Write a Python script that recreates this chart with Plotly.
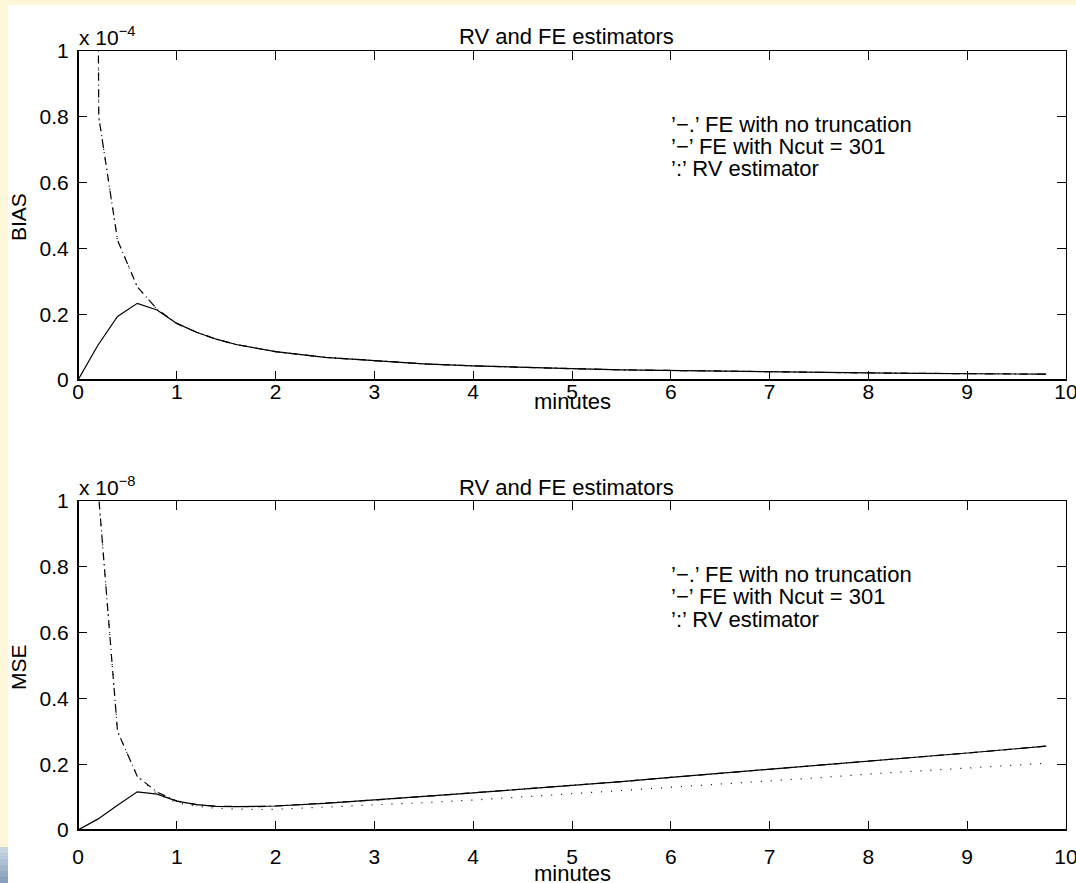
import plotly.graph_objects as go

W, H = 1076, 883

# ---------------- data ----------------
x_grid = [0, 0.2, 0.4, 0.6, 0.8, 1.0, 1.2, 1.4, 1.6, 1.8, 2.0, 2.5, 3.0, 3.5, 4.0,
          4.5, 5.0, 5.5, 6.0, 6.5, 7.0, 7.5, 8.0, 8.5, 9.0, 9.5, 9.8]

# BIAS (x 1e-4)
bias_fe_ncut = [0, 0.105, 0.193, 0.233, 0.213, 0.172, 0.145, 0.124, 0.108, 0.096, 0.086,
                0.069, 0.058, 0.049, 0.043, 0.038, 0.0345, 0.031, 0.0287, 0.0265, 0.0246,
                0.023, 0.0215, 0.0203, 0.0191, 0.0181, 0.0176]
bias_x_notrunc = [0.2, 0.21, 0.4, 0.6, 0.8, 1.0, 1.2, 1.4, 1.6, 1.8, 2.0, 2.5, 3.0, 3.5, 4.0,
                  4.5, 5.0, 5.5, 6.0, 6.5, 7.0, 7.5, 8.0, 8.5, 9.0, 9.5, 9.8]
bias_fe_notrunc = [1.4, 0.8, 0.425, 0.283, 0.215, 0.172, 0.145, 0.124, 0.108, 0.096, 0.086,
                   0.069, 0.058, 0.049, 0.043, 0.038, 0.0345, 0.031, 0.0287, 0.0265, 0.0246,
                   0.023, 0.0215, 0.0203, 0.0191, 0.0181, 0.0176]
bias_rv = [1.4, 0.8, 0.425, 0.283, 0.215, 0.172, 0.145, 0.124, 0.108, 0.096, 0.086,
           0.069, 0.058, 0.049, 0.043, 0.038, 0.0345, 0.031, 0.0287, 0.0265, 0.0246,
           0.023, 0.0215, 0.0203, 0.0191, 0.0181, 0.0176]

# MSE (x 1e-8)
mse_fe_ncut = [0, 0.033, 0.075, 0.116, 0.109, 0.088, 0.077, 0.072, 0.071, 0.071, 0.073,
               0.081, 0.091, 0.102, 0.113, 0.124, 0.135, 0.147, 0.160, 0.172, 0.185,
               0.197, 0.210, 0.222, 0.234, 0.247, 0.255]
mse_x_other = [0.2, 0.4, 0.6, 0.8, 1.0, 1.2, 1.4, 1.6, 1.8, 2.0, 2.5, 3.0, 3.5, 4.0,
               4.5, 5.0, 5.5, 6.0, 6.5, 7.0, 7.5, 8.0, 8.5, 9.0, 9.5, 9.8]
mse_fe_notrunc = [1.05, 0.30, 0.163, 0.115, 0.088, 0.077, 0.072, 0.071, 0.071, 0.073,
                  0.081, 0.091, 0.102, 0.113, 0.124, 0.135, 0.147, 0.160, 0.172, 0.185,
                  0.197, 0.210, 0.222, 0.234, 0.247, 0.255]
mse_rv = [1.05, 0.30, 0.163, 0.110, 0.083, 0.072, 0.066, 0.063, 0.062, 0.063,
          0.069, 0.076, 0.083, 0.091, 0.100, 0.110, 0.120, 0.130, 0.139, 0.149,
          0.159, 0.170, 0.179, 0.188, 0.197, 0.203]

x_ticks = [0, 1, 2, 3, 4, 5, 6, 7, 8, 9, 10]
y_ticks = [0, 0.2, 0.4, 0.6, 0.8, 1]
y_ticklabels = ["0", "0.2", "0.4", "0.6", "0.8", "1"]
legend_lines = ["’−.’ FE with no truncation", "’−’ FE with Ncut = 301", "’:’ RV estimator"]

# ---------------- layout helpers ----------------
def px(x):
    return x / W

def py(y):
    return 1 - y / H

FONT = "Liberation Sans, Arial, sans-serif"
FS = 21
FS_TXT = 22

fig = go.Figure()

DASHDOT = "8px,4px,1px,4px"
DOT = "1px,9px"

def add_panel(xa, ya, xs, ys_ncut, xs2, ys_notrunc, ys_rv, xs3):
    fig.add_trace(go.Scatter(x=xs3, y=ys_rv, mode="lines", xaxis=xa, yaxis=ya,
                             line=dict(color="black", width=1.2, dash=DOT), showlegend=False))
    fig.add_trace(go.Scatter(x=xs2, y=ys_notrunc, mode="lines", xaxis=xa, yaxis=ya,
                             line=dict(color="black", width=1.2, dash=DASHDOT), showlegend=False))
    fig.add_trace(go.Scatter(x=xs, y=ys_ncut, mode="lines", xaxis=xa, yaxis=ya,
                             line=dict(color="black", width=1.2), showlegend=False))

add_panel("x", "y", x_grid, bias_fe_ncut, bias_x_notrunc, bias_fe_notrunc, bias_rv, bias_x_notrunc)
add_panel("x2", "y2", x_grid, mse_fe_ncut, mse_x_other, mse_fe_notrunc, mse_rv, mse_x_other)

X0, X1 = 78, 1066
TOP = (51, 380)
BOT = (501, 830)

axis_common = dict(range=[0, 10], tickvals=x_ticks, ticktext=[str(v) for v in x_ticks],
                   ticks="inside", ticklen=9, tickwidth=1, tickcolor="black",
                   showline=True, linecolor="black", linewidth=1, mirror="ticks",
                   showgrid=False, zeroline=False, automargin=False,
                   ticklabeloverflow="allow",
                   tickfont=dict(family=FONT, size=FS, color="black"))
yaxis_common = dict(range=[0, 1], tickvals=y_ticks, ticktext=y_ticklabels,
                    ticks="inside", ticklen=9, tickwidth=1, tickcolor="black",
                    showline=True, linecolor="black", linewidth=1, mirror="ticks",
                    showgrid=False, zeroline=False, automargin=False,
                    ticklabeloverflow="allow",
                    tickfont=dict(family=FONT, size=FS, color="black"))

fig.update_layout(
    width=W, height=H,
    margin=dict(l=0, r=0, t=0, b=0, autoexpand=False),
    paper_bgcolor="white", plot_bgcolor="white",
    showlegend=False,
    xaxis=dict(axis_common, domain=[px(X0), px(X1)], anchor="y", ticklabelstandoff=-7),
    yaxis=dict(yaxis_common, domain=[py(TOP[1]), py(TOP[0])], anchor="x", ticklabelstandoff=4),
    xaxis2=dict(axis_common, domain=[px(X0), px(X1)], anchor="y2", ticklabelstandoff=8),
    yaxis2=dict(yaxis_common, domain=[py(BOT[1]), py(BOT[0])], anchor="x2", ticklabelstandoff=4),
)

shapes = []
# slide background decorations
shapes.append(dict(type="rect", xref="paper", yref="paper", x0=0, x1=1, y0=py(5), y1=1,
                   fillcolor="#FEF6D8", line=dict(width=0), layer="below"))
shapes.append(dict(type="rect", xref="paper", yref="paper", x0=0, x1=px(8), y0=py(847), y1=1,
                   fillcolor="#FEF6D8", line=dict(width=0), layer="below"))
blues = ["#C9D6E2", "#BCCBDB", "#AEC0D3", "#A1B5CB", "#94AAC3", "#889FBB"]
n = len(blues)
for i, c in enumerate(blues):
    ya0 = 847 + i * (H - 847) / n
    ya1 = 847 + (i + 1) * (H - 847) / n
    shapes.append(dict(type="rect", xref="paper", yref="paper", x0=0, x1=px(8),
                       y0=py(ya1), y1=py(ya0), fillcolor=c, line=dict(width=0), layer="below"))
# thicker left / bottom axis lines
for (yt, yb) in (TOP, BOT):
    shapes.append(dict(type="line", xref="paper", yref="paper", x0=px(X0), x1=px(X1),
                       y0=py(yb), y1=py(yb), line=dict(color="black", width=2)))
    shapes.append(dict(type="line", xref="paper", yref="paper", x0=px(X0), x1=px(X0),
                       y0=py(yb), y1=py(yt), line=dict(color="black", width=2)))
fig.update_layout(shapes=shapes)

ann = []
def text(x, y, s, xanchor="center", angle=0, size=FS_TXT):
    ann.append(dict(x=px(x), y=py(y), xref="paper", yref="paper", text=s, showarrow=False,
                    xanchor=xanchor, yanchor="middle", textangle=angle,
                    font=dict(family=FONT, size=size, color="black")))

for off, ylab, exp in ((0, "BIAS", "−4"), (450, "MSE", "−8")):
    text((X0 + X1) / 2 - 6, 37 + off, "RV and FE estimators")
    text(18, 217 + off, ylab, angle=-90, size=FS)
    text(X0 - 1, 36 + off, "x 10<sup>" + exp + "</sup>", xanchor="left", size=FS)
    for i, line in enumerate(legend_lines):
        text(669, 124 + off + i * 22.5, line, xanchor="left")

text((X0 + X1) / 2, 401, "minutes")
text((X0 + X1) / 2, 873, "minutes")
fig.update_layout(annotations=ann)

fig.write_html(
    "out.html",
    config={"displayModeBar": False},
    post_script="document.body.style.margin='0';document.body.style.overflow='hidden';",
)
